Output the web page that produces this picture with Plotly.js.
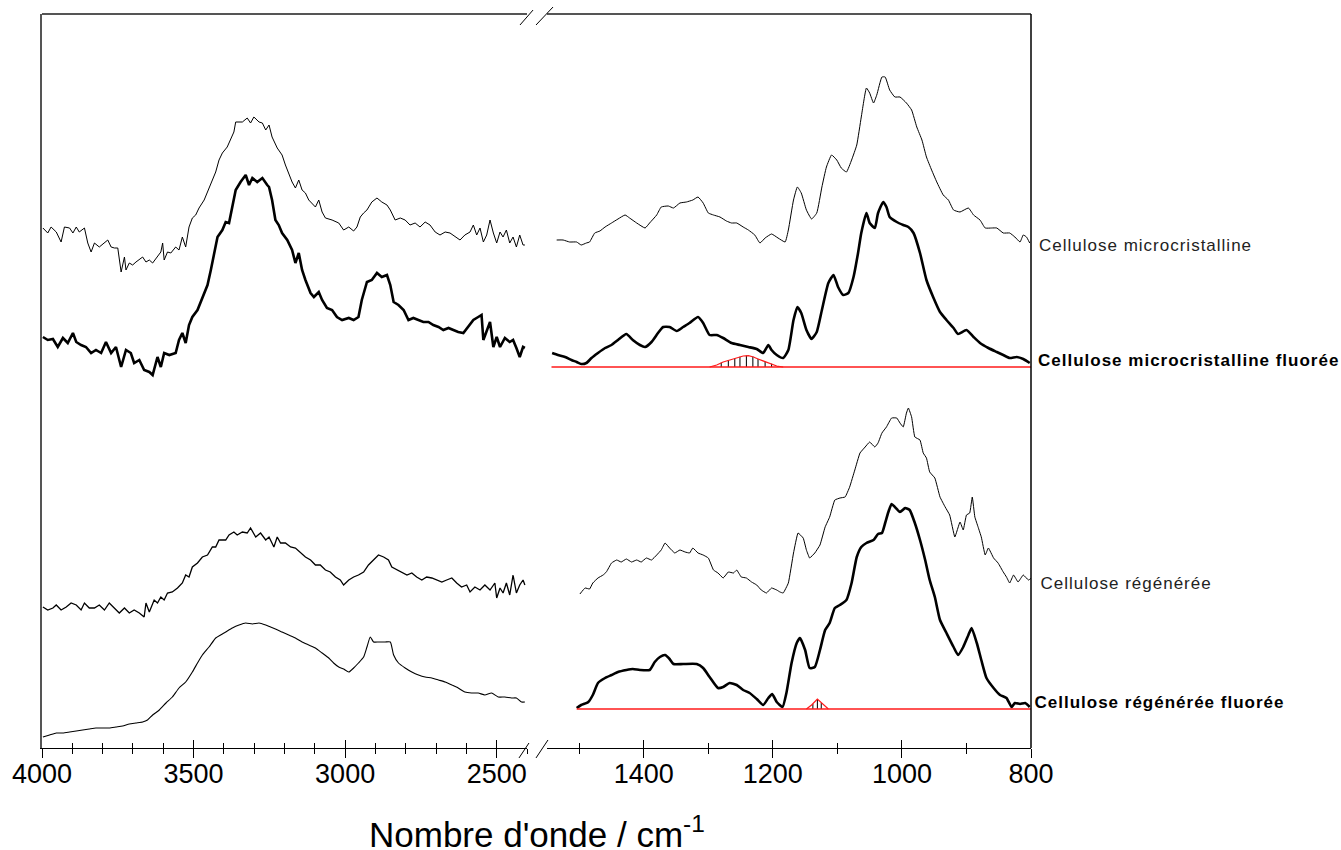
<!DOCTYPE html>
<html>
<head>
<meta charset="utf-8">
<script src="https://cdn.plot.ly/plotly-3.0.1.min.js"></script>
<style>
html,body{margin:0;padding:0;background:#fff;}
.annotation text{letter-spacing:1px;}
.annotation[data-index="0"] text{letter-spacing:0;}
</style>
</head>
<body>
<div id="chart" style="width:1341px;height:850px;"></div>
<script>
// ---- Cellulose microcristalline (left region 4000-2400 cm-1)
const mcLeftWn = [3997,3981,3970,3953,3937,3926,3909,3898,3887,3877,3860,3849,3838,3827,3811,3794,3783,3772,3761,3750,3739,3728,3723,3712,3701,3690,3668,3657,3646,3635,3619,3608,3602,3597,3586,3575,3559,3548,3537,3526,3515,3504,3493,3482,3465,3449,3438,3427,3416,3405,3389,3378,3367,3361,3339,3323,3312,3301,3284,3273,3262,3251,3241,3224,3208,3197,3186,3175,3164,3153,3142,3131,3120,3098,3087,3076,3065,3043,3021,3005,2988,2972,2961,2950,2939,2928,2912,2895,2879,2862,2851,2835,2818,2802,2786,2769,2753,2736,2720,2703,2687,2670,2654,2637,2621,2605,2588,2577,2566,2555,2544,2533,2522,2511,2500,2489,2479,2468,2457,2446,2435,2424,2413,2407];
const mcLeftAbs = [520,515,521,516,506,521,520,515,521,516,520,505,496,505,501,505,508,501,500,500,476,491,478,485,483,486,491,486,488,485,491,496,505,488,496,495,501,498,511,501,521,530,533,540,548,560,568,576,588,595,601,608,616,626,626,630,625,631,626,625,618,623,611,600,593,583,575,566,560,568,558,555,548,541,548,536,530,528,525,518,521,517,521,531,535,538,546,550,546,543,538,528,530,528,523,525,521,526,523,516,513,516,515,511,508,513,516,523,513,520,506,513,528,515,505,516,511,518,505,511,501,513,503,503];

// ---- Cellulose microcristalline fluorée (left)
const mcfLeftWn = [3997,3981,3964,3948,3931,3915,3898,3887,3871,3855,3838,3822,3805,3789,3772,3756,3739,3723,3707,3696,3679,3663,3646,3635,3619,3608,3597,3580,3559,3548,3537,3526,3515,3504,3487,3471,3454,3443,3432,3421,3405,3394,3383,3372,3361,3345,3328,3317,3306,3290,3273,3257,3251,3241,3230,3219,3208,3191,3175,3164,3153,3142,3131,3114,3103,3087,3076,3060,3043,3027,3010,2988,2972,2956,2945,2928,2912,2895,2879,2862,2851,2840,2824,2807,2791,2775,2758,2742,2725,2709,2692,2676,2659,2643,2627,2610,2594,2577,2561,2550,2544,2533,2522,2511,2500,2489,2473,2457,2446,2435,2424,2413,2407];
const mcfLeftAbs = [411,408,409,401,410,405,415,406,403,401,395,398,395,406,395,401,381,398,395,385,388,378,376,373,391,381,395,393,395,408,415,405,423,431,438,451,463,478,495,511,518,526,525,541,558,566,573,563,570,566,570,563,561,548,528,523,515,508,498,485,495,478,468,455,451,456,448,440,438,431,428,430,428,431,448,466,468,475,471,473,463,446,443,438,428,430,428,426,426,423,421,418,420,418,416,415,421,428,431,433,408,418,426,401,411,401,410,406,408,400,391,401,400];

// ---- Cellulose régénérée (left)
const rgLeftWn = [3997,3981,3964,3953,3937,3920,3904,3887,3871,3860,3844,3827,3811,3794,3778,3761,3745,3728,3712,3696,3679,3663,3657,3646,3630,3619,3608,3597,3586,3570,3553,3537,3526,3515,3504,3487,3471,3454,3438,3427,3416,3394,3383,3367,3356,3339,3323,3312,3295,3279,3262,3251,3235,3224,3213,3197,3180,3164,3147,3131,3114,3098,3082,3065,3049,3032,3016,3005,2988,2972,2956,2939,2923,2906,2890,2873,2857,2846,2829,2813,2796,2780,2764,2747,2731,2714,2698,2681,2665,2648,2632,2616,2599,2588,2572,2555,2539,2522,2506,2500,2489,2479,2468,2457,2446,2435,2424,2413,2407];
const rgLeftAbs = [141,138,140,143,138,141,145,143,138,145,140,140,143,138,145,140,135,140,135,138,135,131,145,136,148,145,151,148,155,156,160,165,173,171,181,185,191,193,201,201,208,208,213,216,213,216,215,220,211,215,208,211,201,211,205,205,201,200,195,191,188,183,183,178,176,171,168,163,168,171,173,176,183,188,193,191,188,181,178,176,173,175,171,168,171,170,168,166,168,170,165,161,163,156,161,158,163,158,165,150,160,155,165,153,173,155,163,168,163];

// ---- Cellulose régénérée fluorée (left)
const rgfLeftWn = [3997,3975,3953,3931,3909,3887,3866,3844,3822,3800,3778,3756,3734,3712,3690,3668,3652,3635,3613,3591,3570,3548,3526,3504,3487,3471,3449,3427,3411,3394,3372,3350,3328,3306,3284,3262,3246,3230,3208,3186,3164,3142,3120,3098,3076,3054,3038,3021,3005,2988,2972,2956,2939,2928,2917,2906,2890,2868,2851,2840,2824,2802,2780,2758,2736,2714,2692,2670,2648,2627,2605,2583,2561,2539,2517,2495,2473,2451,2435,2418,2407];
const rgfLeftAbs = [11,13,15,15,16,17,18,19,20,20,20,21,22,24,25,26,28,33,38,45,51,60,66,76,85,93,101,110,113,116,120,123,125,124,125,123,121,119,116,113,110,106,103,100,95,90,85,81,79,76,80,85,91,101,111,106,106,106,106,93,85,80,76,73,71,70,68,66,63,60,56,55,55,53,55,51,51,50,50,46,46];

// ---- Right region (1550-800 cm-1)
const mcRightWn = [1535,1525,1515,1504,1497,1489,1484,1476,1468,1460,1450,1440,1429,1422,1411,1398,1391,1380,1373,1362,1354,1344,1334,1324,1316,1308,1300,1292,1282,1272,1264,1256,1246,1238,1228,1220,1212,1202,1192,1181,1176,1168,1162,1156,1148,1140,1132,1124,1117,1109,1101,1094,1086,1078,1070,1063,1055,1050,1044,1039,1031,1026,1019,1011,1003,993,985,977,969,962,954,946,936,928,920,910,897,889,879,871,861,853,843,833,825,817,812,807,802];
const mcRightAbs = [508,508,506,506,503,505,506,515,517,521,525,529,533,530,525,520,525,533,541,542,540,545,546,548,551,545,535,533,531,527,525,525,521,518,513,505,510,514,510,506,518,548,561,555,538,529,535,561,581,593,588,580,576,588,603,631,660,655,645,653,671,671,658,651,651,645,638,621,608,591,578,566,553,548,538,536,540,533,528,520,520,520,515,515,511,506,513,511,505];

const mcfRightWn = [1542,1533,1522,1512,1504,1497,1489,1481,1471,1460,1450,1440,1427,1417,1406,1398,1388,1378,1370,1360,1349,1339,1329,1316,1308,1298,1287,1277,1264,1251,1238,1225,1215,1207,1202,1194,1184,1176,1168,1162,1156,1148,1140,1132,1124,1114,1106,1099,1091,1083,1075,1068,1063,1055,1050,1042,1037,1029,1024,1019,1008,998,990,982,972,962,951,941,931,920,913,900,889,879,866,853,843,833,822,812,802];
const mcfRightAbs = [395,393,391,388,386,384,385,390,395,400,403,408,414,408,403,401,406,415,421,421,417,421,425,431,425,413,413,410,405,403,401,399,395,403,398,393,390,398,428,441,435,418,409,416,438,465,473,461,453,455,471,495,515,535,525,520,535,546,541,531,526,523,521,515,495,468,450,436,428,420,414,418,411,405,400,396,393,390,391,389,385];

const rgRightWn = [1499,1491,1484,1479,1471,1463,1458,1450,1442,1435,1427,1419,1411,1404,1396,1388,1380,1373,1367,1360,1352,1344,1336,1329,1324,1316,1308,1300,1292,1285,1277,1269,1261,1256,1249,1241,1233,1225,1218,1210,1202,1194,1189,1184,1176,1168,1161,1153,1148,1143,1135,1127,1119,1112,1104,1096,1088,1081,1073,1065,1057,1050,1042,1037,1031,1024,1016,1008,1003,998,993,990,985,980,972,967,962,957,949,941,933,926,918,910,905,900,895,891,887,882,877,871,866,858,851,843,838,833,827,820,812,804,799];
const rgRightAbs = [154,160,159,165,170,173,176,185,188,186,189,186,188,186,190,188,193,198,205,200,195,198,196,195,200,195,193,190,178,175,170,176,175,178,171,170,166,163,158,155,160,158,156,155,165,195,215,210,198,190,195,203,221,231,248,250,251,261,278,295,301,306,301,305,315,321,330,330,325,321,335,340,331,311,308,295,290,276,270,251,241,233,211,226,218,233,235,251,231,221,211,193,200,190,185,176,171,165,173,166,173,168,170];

const rgfRightWn = [1504,1497,1486,1479,1471,1460,1450,1440,1427,1417,1406,1391,1383,1375,1367,1360,1354,1339,1318,1308,1298,1285,1277,1267,1256,1246,1236,1225,1215,1207,1201,1194,1185,1179,1171,1163,1158,1150,1143,1135,1127,1119,1112,1104,1096,1086,1078,1070,1063,1055,1044,1037,1031,1026,1021,1016,1011,1003,995,988,980,972,964,957,949,941,931,920,913,905,897,892,884,877,869,858,848,838,830,825,817,809,802];
const rgfRightAbs = [40,43,46,53,65,70,73,76,78,79,78,78,86,91,93,89,84,84,84,80,71,60,61,65,63,58,55,49,43,50,54,46,41,55,85,105,110,98,80,81,98,118,125,140,143,148,165,191,201,205,208,214,215,225,236,244,241,236,240,238,225,208,188,168,151,128,115,101,93,101,113,120,105,88,70,60,53,50,41,45,44,45,41];

// ---- Baselines and fitted bands (red)
const baseMcWn = [1543, 800];
const baseMcAbs = [381, 381];
const baseRgWn = [1504, 800];
const baseRgAbs = [39, 39];
const bandMcWn = [1298,1287,1277,1267,1256,1246,1238,1230,1223,1215,1205,1194,1184];
const bandMcAbs = [381,383,386,388,390,392,392.3,391,389,387,385,382,381];
const hatchMcWn = [1280,1269,1259,1251,1241,1231,1223,1212,1202,1192];
const hatchMcHeight = [4.3,7,9,10.3,11.6,10.6,8.3,5.6,3.3,1.1];
const bandRgWn = [1148,1140,1131,1122,1114];
const bandRgAbs = [39,43,49,44,39];
const hatchRgWn = [1138,1131,1125];
const hatchRgHeight = [5,9.5,6];

const labels = ["Cellulose microcristalline","Cellulose microcristalline fluorée","Cellulose régénérée","Cellulose régénérée fluorée"];
const labelY = [503, 388, 165, 46];

const thin = {color:'#000', width:1};
const thick = {color:'#000', width:2.6};
const red = '#ff1a1a';

function line(x, y, xa, ln, smooth){
  const l = Object.assign({}, ln);
  if (smooth) { l.shape = 'spline'; l.smoothing = smooth; }
  return {x:x, y:y, xaxis:xa, yaxis:'y', type:'scatter', mode:'lines', line:l, hoverinfo:'skip', showlegend:false};
}

const traces = [
  line(mcLeftWn, mcLeftAbs, 'x', thin),
  line(mcfLeftWn, mcfLeftAbs, 'x', thick),
  line(rgLeftWn, rgLeftAbs, 'x', {color:'#000', width:1.3}),
  line(rgfLeftWn, rgfLeftAbs, 'x', {color:'#000', width:1.1}, 0.5),
  line(mcRightWn, mcRightAbs, 'x2', thin, 0.4),
  line(mcfRightWn, mcfRightAbs, 'x2', thick, 0.5),
  line(rgRightWn, rgRightAbs, 'x2', thin, 0.3),
  line(rgfRightWn, rgfRightAbs, 'x2', thick, 0.5),
  {x:hatchMcWn, y:hatchMcHeight, base:baseMcAbs[0], type:'bar', xaxis:'x2', yaxis:'y', width:1.6,
   marker:{color:'#000', line:{width:0}}, hoverinfo:'skip', showlegend:false},
  {x:hatchRgWn, y:hatchRgHeight, base:baseRgAbs[0], type:'bar', xaxis:'x2', yaxis:'y', width:1.6,
   marker:{color:'#000', line:{width:0}}, hoverinfo:'skip', showlegend:false},
  line(baseMcWn, baseMcAbs, 'x2', {color:red, width:1.5}),
  line(baseRgWn, baseRgAbs, 'x2', {color:red, width:1.5}),
  line(bandMcWn, bandMcAbs, 'x2', {color:red, width:1.2}),
  line(bandRgWn, bandRgAbs, 'x2', {color:red, width:1.2}),
  {x:[4000], y:[-100], xaxis:'x3', yaxis:'y', type:'scatter', mode:'markers', hoverinfo:'skip', showlegend:false},
  {x:[1000], y:[-100], xaxis:'x4', yaxis:'y', type:'scatter', mode:'markers', hoverinfo:'skip', showlegend:false}
];

const tickFont = {family:'"Liberation Sans", Arial, sans-serif', size:27, color:'#000'};
const axBase = {showgrid:false, zeroline:false, fixedrange:true, anchor:'y'};

const leftDom = [0, 0.4904];
const rightDom = [0.5106, 1];

const layout = {
  width:1341, height:850,
  margin:{l:42, r:310, t:14, b:102},
  paper_bgcolor:'#fff', plot_bgcolor:'#fff',
  barmode:'overlay',
  showlegend:false,
  // main axes: labels + inward half of the crossing ticks
  xaxis: Object.assign({}, axBase, {domain:leftDom, range:[4000,2400], showline:true, linecolor:'#000', linewidth:1,
    ticks:'inside', ticklen:8, tickwidth:1, tickcolor:'#000', dtick:500, tick0:0, tickfont:tickFont, ticklabelstandoff:2,
    minor:{dtick:100, ticks:'inside', ticklen:5, tickwidth:1, tickcolor:'#000'}}),
  xaxis2: Object.assign({}, axBase, {domain:rightDom, range:[1550,800], showline:true, linecolor:'#000', linewidth:1,
    ticks:'inside', ticklen:8, tickwidth:1, tickcolor:'#000', dtick:200, tick0:0, tickfont:tickFont, ticklabelstandoff:2,
    minor:{dtick:100, ticks:'inside', ticklen:5, tickwidth:1, tickcolor:'#000'}}),
  // overlay axes: outward half of the crossing ticks
  xaxis3: Object.assign({}, axBase, {overlaying:'x', range:[4000,2400], showline:false, showticklabels:false,
    ticks:'outside', ticklen:9, tickwidth:1, tickcolor:'#000', dtick:500, tick0:0,
    minor:{dtick:100, ticks:'outside', ticklen:5, tickwidth:1, tickcolor:'#000'}}),
  xaxis4: Object.assign({}, axBase, {overlaying:'x2', range:[1550,800], showline:false, showticklabels:false,
    ticks:'outside', ticklen:9, tickwidth:1, tickcolor:'#000', dtick:200, tick0:0,
    minor:{dtick:100, ticks:'outside', ticklen:5, tickwidth:1, tickcolor:'#000'}}),
  yaxis: {range:[0,734], domain:[0,1], showgrid:false, zeroline:false, showticklabels:false, ticks:'',
    showline:true, linecolor:'#555', linewidth:2, fixedrange:true, anchor:'x'},
  shapes: [
    {type:'line', xref:'x domain', yref:'paper', x0:0, x1:1, y0:1, y1:1, line:{color:'#555', width:2}},
    {type:'line', xref:'x2 domain', yref:'paper', x0:0, x1:1, y0:1, y1:1, line:{color:'#555', width:2}},
    {type:'line', xref:'paper', yref:'paper', x0:1, x1:1, y0:0, y1:1, line:{color:'#000', width:1.5}},
    // axis break marks
    {type:'line', xref:'paper', yref:'paper', x0:0.4823, y0:-0.0136, x1:0.4924, y1:0.0068, line:{color:'#000', width:1}},
    {type:'line', xref:'paper', yref:'paper', x0:0.4995, y0:-0.0136, x1:0.5116, y1:0.0109, line:{color:'#000', width:1}},
    {type:'line', xref:'paper', yref:'paper', x0:0.4833, y0:0.985, x1:0.4965, y1:1.0054, line:{color:'#000', width:1}},
    {type:'line', xref:'paper', yref:'paper', x0:0.4995, y0:0.985, x1:0.5167, y1:1.0095, line:{color:'#000', width:1}}
  ],
  annotations: [
    {text:"Nombre d'onde / cm<sup>-1</sup>", xref:'paper', yref:'paper', x:0.5005, y:-0.114, xanchor:'center', yanchor:'middle',
     showarrow:false, font:{family:'"Liberation Sans", Arial, sans-serif', size:35, color:'#000'}},
    {text:labels[0], xref:'paper', yref:'y', x:1.0091, y:labelY[0], xanchor:'left', yanchor:'middle', showarrow:false, xshift:10,
     font:{family:'"Liberation Sans", Arial, sans-serif', size:17, color:'#222'}},
    {text:'<b>'+labels[1]+'</b>', xref:'paper', yref:'y', x:1.0091, y:labelY[1], xanchor:'left', yanchor:'middle', showarrow:false, xshift:13,
     font:{family:'"Liberation Sans", Arial, sans-serif', size:17, color:'#000'}},
    {text:labels[2], xref:'paper', yref:'y', x:1.0091, y:labelY[2], xanchor:'left', yanchor:'middle', showarrow:false, xshift:8,
     font:{family:'"Liberation Sans", Arial, sans-serif', size:17, color:'#222'}},
    {text:'<b>'+labels[3]+'</b>', xref:'paper', yref:'y', x:1.004, y:labelY[3], xanchor:'left', yanchor:'middle', showarrow:false, xshift:11,
     font:{family:'"Liberation Sans", Arial, sans-serif', size:17, color:'#000'}}
  ]
};

Plotly.newPlot('chart', traces, layout, {displayModeBar:false, staticPlot:true});
</script>
</body>
</html>
